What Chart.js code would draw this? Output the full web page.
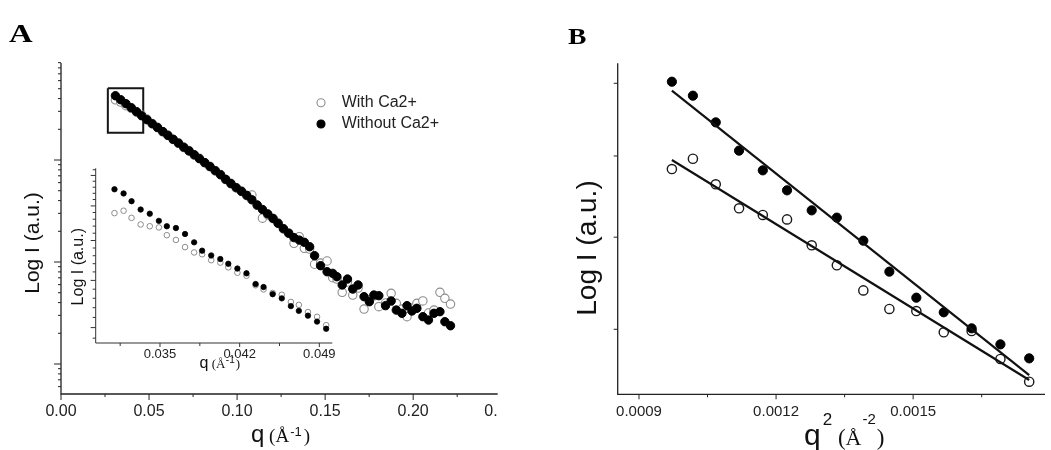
<!DOCTYPE html>
<html>
<head>
<meta charset="utf-8">
<script src="https://cdn.jsdelivr.net/npm/chart.js@4.4.0/dist/chart.umd.min.js"></script>
<style>
body{margin:0;background:#fff;width:1051px;height:450px;overflow:hidden;position:relative}
canvas{position:absolute}
#mainA{left:0;top:0}
#insetA{left:60px;top:150px}
#chartB{left:520px;top:0}
</style>
</head>
<body>
<canvas id="mainA" width="503" height="450"></canvas>
<canvas id="insetA" width="290" height="235"></canvas>
<canvas id="chartB" width="531" height="450"></canvas>
<script>
const SANS = '"Liberation Sans", Arial, sans-serif'
const SERIF = '"Liberation Serif", "Times New Roman", serif'

// ---- panel A, main plot: q (1/A) and log10 I (a.u.) ----
const qMain = [0.0309, 0.0339, 0.0369, 0.0399, 0.0429, 0.0458, 0.0488, 0.0518, 0.0548, 0.0578,
  0.0607, 0.0637, 0.0667, 0.0697, 0.0727, 0.0757, 0.0786, 0.0816, 0.0846, 0.0876,
  0.0906, 0.0935, 0.0965, 0.0995, 0.1025, 0.1055, 0.1084, 0.1114, 0.1144, 0.1174,
  0.1204, 0.1233, 0.1263, 0.1293, 0.1323, 0.1353, 0.1382,
  0.1412, 0.1440, 0.1474, 0.1511, 0.1543, 0.1567, 0.1597, 0.1627, 0.1657, 0.1687,
  0.1721, 0.1751, 0.1777, 0.1805, 0.1843, 0.1875, 0.1904, 0.1936, 0.1965, 0.1993,
  0.2021, 0.2055, 0.2087, 0.2118, 0.2152, 0.2180, 0.2212]
const logIWithout = [2.630, 2.591, 2.552, 2.513, 2.474, 2.434, 2.395, 2.355, 2.318, 2.279,
  2.241, 2.203, 2.165, 2.126, 2.089, 2.051, 2.013, 1.975, 1.935, 1.896,
  1.855, 1.811, 1.768, 1.729, 1.692, 1.654, 1.610, 1.559, 1.515, 1.472,
  1.428, 1.379, 1.327, 1.282, 1.239, 1.215, 1.193,
  1.150, 1.062, 0.964, 0.905, 0.889, 0.856, 0.775, 0.833, 0.735, 0.775,
  0.660, 0.611, 0.676, 0.670, 0.572, 0.618, 0.529, 0.497, 0.572, 0.520,
  0.546, 0.464, 0.431, 0.497, 0.513, 0.415, 0.375]
const logIWith = [2.590, 2.568, 2.533, 2.507, 2.469, 2.441, 2.402, 2.358, 2.320, 2.276,
  2.245, 2.200, 2.168, 2.122, 2.092, 2.048, 2.016, 1.972, 1.938, 1.893,
  1.858, 1.808, 1.771, 1.726, 1.695, 1.650, 1.657, 1.556, 1.430, 1.462,
  1.425, 1.382, 1.324, 1.285, 1.183, 1.248, 1.134,
  1.127, 0.978, 0.990, 1.010, 0.846, 0.833, 0.703, 0.804, 0.676, 0.745,
  0.539, 0.627, 0.667, 0.562, 0.598, 0.693, 0.595, 0.539, 0.464, 0.549,
  0.595, 0.618, 0.500, 0.529, 0.703, 0.644, 0.588]
const boxQ = [0.0266, 0.0467]
const boxLogI = [2.268, 2.703]
const qTicksA = [0, 0.05, 0.10, 0.15, 0.20, 0.25]
const qTickLabelsA = ['0.00', '0.05', '0.10', '0.15', '0.20', '0.']

// ---- panel A, inset ----
const qInset = [0.0310, 0.0318, 0.0325, 0.0333, 0.0341, 0.0349, 0.0356, 0.0364, 0.0372, 0.0380,
  0.0387, 0.0395, 0.0403, 0.0410, 0.0418, 0.0426, 0.0434, 0.0441, 0.0449, 0.0457,
  0.0465, 0.0472, 0.0480, 0.0488, 0.0496]
const insetWithout = [2.630, 2.623, 2.610, 2.596, 2.589, 2.577, 2.568, 2.565, 2.555, 2.541,
  2.527, 2.519, 2.513, 2.505, 2.497, 2.489, 2.471, 2.466, 2.454, 2.447,
  2.434, 2.426, 2.418, 2.408, 2.396]
const insetWith = [2.590, 2.594, 2.582, 2.571, 2.568, 2.566, 2.553, 2.545, 2.533, 2.524,
  2.521, 2.511, 2.507, 2.499, 2.490, 2.485, 2.469, 2.462, 2.456, 2.453,
  2.441, 2.436, 2.424, 2.416, 2.402]
const qTicksInset = [0.035, 0.042, 0.049]
const qTickLabelsInset = ['0.035', '0.042', '0.049']

// ---- panel B: q^2 (1/A^2) and log10 I ----
const q2B = [0.000972, 0.001018, 0.001068, 0.001119, 0.001171, 0.001224, 0.001278, 0.001333,
  0.001391, 0.001448, 0.001507, 0.001567, 0.001628, 0.001691, 0.001754]
const logBWithout = [1.0010, 0.9922, 0.9754, 0.9576, 0.9452, 0.9326, 0.9200, 0.9154,
  0.9009, 0.8814, 0.8650, 0.8558, 0.8457, 0.8356, 0.8268]
const logBWith = [0.9460, 0.9525, 0.9364, 0.9213, 0.9171, 0.9143, 0.8980, 0.8854,
  0.8696, 0.8579, 0.8566, 0.8432, 0.8440, 0.8264, 0.8121]
const q2Fit = [0.000972, 0.001754]
const fitWithout = [0.9954, 0.8163]
const fitWith = [0.9517, 0.8132]
const q2TicksB = [0.0009, 0.0012, 0.0015]
const q2TickLabelsB = ['0.0009', '0.0012', '0.0015']
const ITicksB = [7, 8, 9, 10]

const pts = (xs, ys) => xs.map((x, i) => ({x, y: ys[i]}))

// tick positions of a log axis, expressed in log10 units
function logTicks(lo, hi) {
  let out = []
  for (let d = Math.floor(lo) - 1; d <= Math.ceil(hi); d++)
    for (let m = 1; m <= 9; m++) {
      let v = d + Math.log10(m)
      if (v >= lo - 0.004 && v <= hi + 0.004) out.push({v, major: m === 1})
    }
  return out
}

function frame(chart, o) {
  const {ctx, chartArea: a} = chart
  const x = chart.scales.x, y = chart.scales.y
  ctx.save()
  ctx.strokeStyle = o.color
  ctx.lineWidth = o.axisWidth
  ctx.beginPath()
  ctx.moveTo(a.left, a.top)
  ctx.lineTo(a.left, a.bottom)
  ctx.lineTo(a.right, a.bottom)
  ctx.stroke()
  ctx.lineWidth = 1
  ctx.beginPath()
  o.xTicks.forEach(t => {
    let px = x.getPixelForValue(t.v)
    if (px < a.left - 0.5 || px > a.right + 0.5) return
    ctx.moveTo(px, a.bottom)
    ctx.lineTo(px, a.bottom + (t.major ? o.xMajor : o.xMinor))
  })
  o.yTicks.forEach(t => {
    let py = y.getPixelForValue(t.v)
    ctx.moveTo(a.left, py)
    ctx.lineTo(a.left - (t.major ? o.yMajor : o.yMinor), py)
  })
  ctx.stroke()
  ctx.fillStyle = '#222'
  ctx.font = o.tickFont
  ctx.textBaseline = 'middle'
  o.xLabels.forEach((l, i) => {
    let px = x.getPixelForValue(o.xLabelValues[i])
    // a label past the end of the axis is cut by the panel edge, as in the figure
    if (px > a.right + 1) { ctx.textAlign = 'right'; px = a.right }
    else ctx.textAlign = 'center'
    ctx.fillText(l, px, o.labelY)
  })
  ctx.restore()
}

function drawRun(ctx, x, y, parts) {
  ctx.save()
  ctx.fillStyle = '#111'
  ctx.textAlign = 'left'
  ctx.textBaseline = 'alphabetic'
  parts.forEach(p => {
    ctx.font = p.font
    ctx.fillText(p.t, x, y - (p.up || 0))
    x += ctx.measureText(p.t).width + (p.gap || 0)
  })
  ctx.restore()
}

function vText(ctx, text, font, cx, cy) {
  ctx.save()
  ctx.translate(cx, cy)
  ctx.rotate(-Math.PI / 2)
  ctx.font = font
  ctx.fillStyle = '#111'
  ctx.textAlign = 'center'
  ctx.textBaseline = 'middle'
  ctx.fillText(text, 0, 0)
  ctx.restore()
}

function panelLetter(ctx, letter, x, y, size, sx) {
  ctx.save()
  ctx.translate(x, y)
  ctx.scale(sx, 1)
  ctx.font = 'bold ' + size + 'px ' + SERIF
  ctx.fillStyle = '#000'
  ctx.textAlign = 'left'
  ctx.textBaseline = 'alphabetic'
  ctx.fillText(letter, 0, 0)
  ctx.restore()
}

function baseOptions(xr, yr, padding) {
  return {
    responsive: false,
    animation: false,
    layout: {padding},
    scales: {
      x: {type: 'linear', min: xr[0], max: xr[1], display: false},
      y: {type: 'linear', min: yr[0], max: yr[1], display: false}
    },
    plugins: {legend: {display: false}, tooltip: {enabled: false}}
  }
}

// ---------- panel A main ----------
const yRangeA = [-0.294, 2.951]
new Chart(document.getElementById('mainA'), {
  type: 'scatter',
  data: {
    datasets: [
      {label: 'Without Ca2+', data: pts(qMain, logIWithout), pointRadius: 4.2, pointBorderWidth: 1,
        pointBackgroundColor: '#000', pointBorderColor: '#000', clip: false},
      {label: 'With Ca2+', data: pts(qMain, logIWith), pointRadius: 4.2, pointBorderWidth: 1.1,
        pointBackgroundColor: '#fff', pointBorderColor: '#8c8c8c', clip: false},
      {label: 'box', data: pts([boxQ[0], boxQ[1], boxQ[1], boxQ[0], boxQ[0]], [boxLogI[1], boxLogI[1], boxLogI[0], boxLogI[0], boxLogI[1]]),
        showLine: true, pointRadius: 0, borderColor: '#161616', borderWidth: 2, clip: false}
    ]
  },
  options: baseOptions([0, 0.248], yRangeA, {left: 61, top: 63, right: 1, bottom: 56}),
  plugins: [{
    id: 'frameA',
    afterDraw(chart) {
      const ctx = chart.ctx
      let minors = []
      for (let i = 0; i < qTicksA.length - 1; i++) minors.push({v: qTicksA[i] + 0.025, major: false})
      frame(chart, {
        color: '#222', axisWidth: 1.3,
        xTicks: qTicksA.map(v => ({v, major: true})).concat(minors),
        yTicks: logTicks(yRangeA[0], yRangeA[1]),
        xMajor: 6, xMinor: 3, yMajor: 7, yMinor: 3,
        tickFont: '16px ' + SANS, xLabels: qTickLabelsA, xLabelValues: qTicksA, labelY: 411.5
      })
      vText(ctx, 'Log I (a.u.)', '21px ' + SANS, 33, 243)
      drawRun(ctx, 251, 441.5, [
        {t: 'q', font: '24px ' + SANS},
        {t: ' (', font: '19px ' + SERIF},
        {t: 'Å', font: '19px ' + SERIF, gap: 1},
        {t: '-1', font: '13px ' + SANS, up: 6, gap: 2},
        {t: ')', font: '19px ' + SERIF}
      ])
      // legend
      ctx.save()
      ctx.font = '16px ' + SANS
      ctx.textBaseline = 'middle'
      ;[[chart.data.datasets[1], 102.7], [chart.data.datasets[0], 124]].forEach(([ds, py]) => {
        ctx.beginPath()
        ctx.arc(321, py, 4, 0, Math.PI * 2)
        ctx.fillStyle = ds.pointBackgroundColor
        ctx.fill()
        ctx.lineWidth = 1.1
        ctx.strokeStyle = ds.pointBorderColor
        ctx.stroke()
        ctx.fillStyle = '#222'
        ctx.fillText(ds.label, 341.7, py)
      })
      ctx.restore()
      panelLetter(ctx, 'A', 9, 42, 25.5, 1.28)
    }
  }]
})

// ---------- panel A inset ----------
const yRangeInset = [2.3721, 2.6652]
new Chart(document.getElementById('insetA'), {
  type: 'scatter',
  data: {
    datasets: [
      {label: 'Without Ca2+', data: pts(qInset, insetWithout), pointRadius: 2.7, pointBorderWidth: 0.8,
        pointBackgroundColor: '#000', pointBorderColor: '#000', clip: false},
      {label: 'With Ca2+', data: pts(qInset, insetWith), pointRadius: 2.8, pointBorderWidth: 1,
        pointBackgroundColor: '#fff', pointBorderColor: '#8c8c8c', clip: false}
    ]
  },
  options: baseOptions([0.02935, 0.05014], yRangeInset, {left: 35.7, top: 18.3, right: 17.7, bottom: 42}),
  plugins: [{
    id: 'frameInset',
    afterDraw(chart) {
      const ctx = chart.ctx
      let yt = []
      for (let I = 240; I <= 460; I += 10) yt.push({v: Math.log10(I), major: I % 50 === 0})
      frame(chart, {
        color: '#333', axisWidth: 1,
        xTicks: qTicksInset.map(v => ({v, major: true})).concat(qTicksInset.map(v => ({v: v - 0.0035, major: false}))),
        yTicks: yt,
        xMajor: 4, xMinor: 3, yMajor: 5, yMinor: 3,
        tickFont: '13px ' + SANS, xLabels: qTickLabelsInset, xLabelValues: qTicksInset, labelY: 204
      })
      vText(ctx, 'Log I (a.u.)', '16px ' + SANS, 18.5, 116.7)
      drawRun(ctx, 139.5, 218, [
        {t: 'q', font: '16px ' + SANS},
        {t: ' (', font: '13px ' + SERIF},
        {t: 'Å', font: '13px ' + SERIF, gap: 0.5},
        {t: '-1', font: '10px ' + SANS, up: 5, gap: 1},
        {t: ')', font: '13px ' + SERIF}
      ])
    }
  }]
})

// ---------- panel B ----------
const yRangeB = [0.80416, 1.0126]
new Chart(document.getElementById('chartB'), {
  type: 'scatter',
  data: {
    datasets: [
      {label: 'fit without', data: pts(q2Fit, fitWithout), showLine: true, pointRadius: 0,
        borderColor: '#111', borderWidth: 2.2, clip: false},
      {label: 'fit with', data: pts(q2Fit, fitWith), showLine: true, pointRadius: 0,
        borderColor: '#111', borderWidth: 2.2, clip: false},
      {label: 'Without Ca2+', data: pts(q2B, logBWithout), pointRadius: 4.6, pointBorderWidth: 1,
        pointBackgroundColor: '#000', pointBorderColor: '#000', clip: false},
      {label: 'With Ca2+', data: pts(q2B, logBWith), pointRadius: 4.6, pointBorderWidth: 1.4,
        pointBackgroundColor: '#fff', pointBorderColor: '#1a1a1a', clip: false}
    ]
  },
  options: baseOptions([0.0008534, 0.0017886], yRangeB, {left: 97.7, top: 63.3, right: 0, bottom: 55.7}),
  plugins: [{
    id: 'frameB',
    afterDraw(chart) {
      const ctx = chart.ctx
      frame(chart, {
        color: '#222', axisWidth: 1.3,
        xTicks: q2TicksB.map(v => ({v, major: true})).concat(q2TicksB.map(v => ({v: v + 0.00015, major: false}))),
        yTicks: ITicksB.map(I => ({v: Math.log10(I), major: true})),
        xMajor: 5, xMinor: 3, yMajor: 4, yMinor: 3,
        tickFont: '15px ' + SANS, xLabels: q2TickLabelsB, xLabelValues: q2TicksB, labelY: 412
      })
      vText(ctx, 'Log I (a.u.)', '28px ' + SANS, 68, 248)
      drawRun(ctx, 284, 445, [
        {t: 'q', font: '30px ' + SANS, gap: 2},
        {t: '2', font: '17px ' + SANS, up: 20},
        {t: ' (', font: '23px ' + SERIF},
        {t: 'Å', font: '22px ' + SERIF, gap: 1},
        {t: '-2', font: '15px ' + SANS, up: 21, gap: 1},
        {t: ')', font: '23px ' + SERIF}
      ])
      panelLetter(ctx, 'B', 48, 43.5, 23, 1.2)
    }
  }]
})
</script>
</body>
</html>
